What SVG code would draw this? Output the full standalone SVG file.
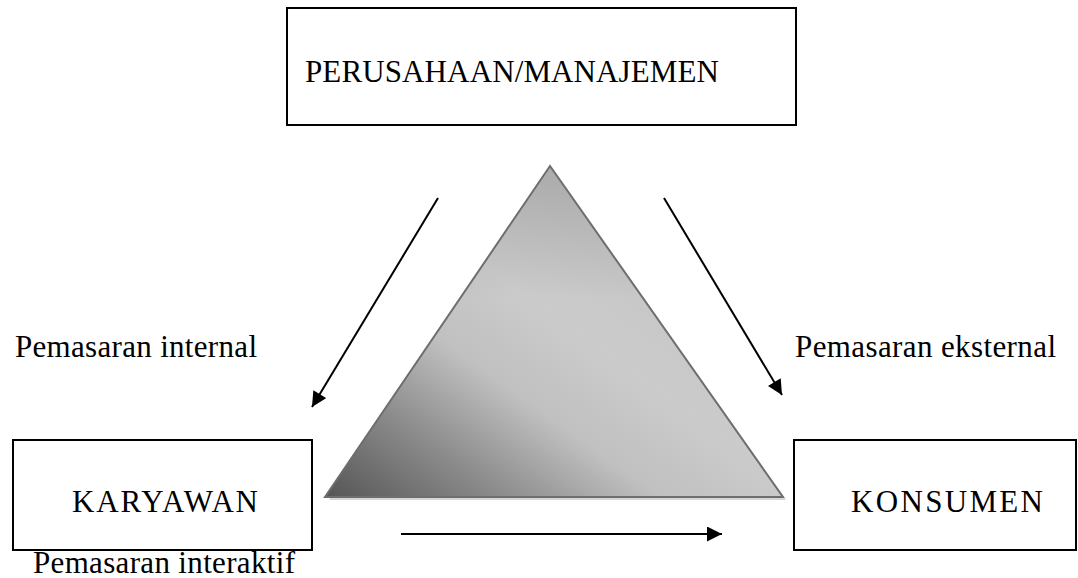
<svg xmlns="http://www.w3.org/2000/svg" width="1078" height="578" viewBox="0 0 1078 578">
<style>
.box{fill:#ffffff;stroke:#000000;stroke-width:2}
.t{font-family:"Liberation Serif","Times New Roman",serif;font-size:31px;fill:#000000}
.c{stroke:#000000;stroke-width:2;fill:none;marker-end:url(#ah)}
</style>
<defs>
<marker id="ah" viewBox="0 0 10 10" refX="10" refY="5" markerWidth="8" markerHeight="7.5" markerUnits="strokeWidth" orient="auto">
<path d="M0,0 L10,5 L0,10 z" fill="#000000"/>
</marker>
<linearGradient id="tg" x1="0" y1="1" x2="0.7" y2="0.3">
<stop offset="0" stop-color="#555555"/>
<stop offset="0.28" stop-color="#8c8c8c"/>
<stop offset="0.52" stop-color="#c0c0c0"/>
<stop offset="0.75" stop-color="#cbcbcb"/>
<stop offset="1" stop-color="#c6c6c6"/>
</linearGradient>
<linearGradient id="tg2" x1="0" y1="0" x2="0" y2="1">
<stop offset="0" stop-color="#8a8a8a" stop-opacity="0.45"/>
<stop offset="0.4" stop-color="#8a8a8a" stop-opacity="0"/>
</linearGradient>
</defs>
<rect width="1078" height="578" fill="#ffffff"/>
<g id="triangle">
<polygon points="552,169 329,500 786,500" fill="#c4c4c4" opacity="0.7"/>
<polygon points="550,166 325,497 783,497" fill="url(#tg)"/>
<polygon points="550,166 325,497 783,497" fill="url(#tg2)" stroke="#6e6e6e" stroke-width="2"/>
</g>
<g id="node-perusahaan">
<rect class="box" x="287" y="8" width="509" height="117"/>
<text class="t" x="305" y="82" textLength="414" lengthAdjust="spacing">PERUSAHAAN/MANAJEMEN</text>
</g>
<g id="node-karyawan">
<rect class="box" x="13" y="440" width="299" height="110"/>
<text class="t" x="72" y="512" textLength="186" lengthAdjust="spacing">KARYAWAN</text>
</g>
<g id="node-konsumen">
<rect class="box" x="794" y="440" width="282" height="110"/>
<text class="t" x="851" y="512" textLength="192" lengthAdjust="spacing">KONSUMEN</text>
</g>
<g id="connectors">
<line class="c" x1="438" y1="198" x2="312" y2="407"/>
<line class="c" x1="664" y1="198" x2="782" y2="395"/>
<line class="c" x1="401" y1="534" x2="722" y2="534"/>
</g>
<g id="labels">
<text class="t" x="15" y="357" textLength="242" lengthAdjust="spacing">Pemasaran internal</text>
<text class="t" x="795" y="357" textLength="261" lengthAdjust="spacing">Pemasaran eksternal</text>
<text class="t" x="33" y="573" textLength="262" lengthAdjust="spacing">Pemasaran interaktif</text>
</g>
</svg>
